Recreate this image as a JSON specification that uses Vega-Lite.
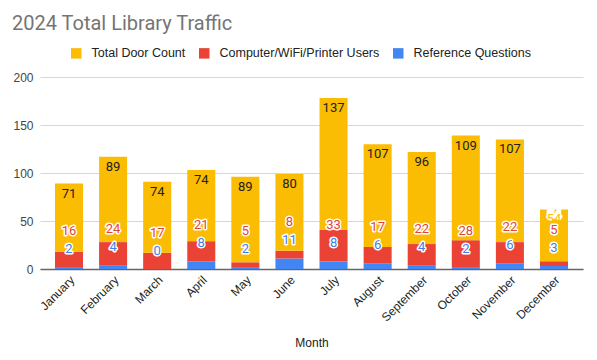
{
  "$schema": "https://vega.github.io/schema/vega-lite/v6.json",
  "width": 543,
  "height": 192,
  "autosize": {"type": "none"},
  "padding": {"left": 40, "top": 77, "right": 14, "bottom": 91},
  "background": "white",
  "title": {"text": "2024 Total Library Traffic", "anchor": "start", "frame": "group", "fontSize": 20, "font": "Roboto", "fontWeight": "normal", "color": "#757575", "dx": -28, "offset": 13},
  "config": {"view": {"stroke": null}, "font": "Liberation Sans"},
  "data": {"values": [
    {"Month": "January", "Total Door Count": 71, "Computer/WiFi/Printer Users": 16, "Reference Questions": 2},
    {"Month": "February", "Total Door Count": 89, "Computer/WiFi/Printer Users": 24, "Reference Questions": 4},
    {"Month": "March", "Total Door Count": 74, "Computer/WiFi/Printer Users": 17, "Reference Questions": 0},
    {"Month": "April", "Total Door Count": 74, "Computer/WiFi/Printer Users": 21, "Reference Questions": 8},
    {"Month": "May", "Total Door Count": 89, "Computer/WiFi/Printer Users": 5, "Reference Questions": 2},
    {"Month": "June", "Total Door Count": 80, "Computer/WiFi/Printer Users": 8, "Reference Questions": 11},
    {"Month": "July", "Total Door Count": 137, "Computer/WiFi/Printer Users": 33, "Reference Questions": 8},
    {"Month": "August", "Total Door Count": 107, "Computer/WiFi/Printer Users": 17, "Reference Questions": 6},
    {"Month": "September", "Total Door Count": 96, "Computer/WiFi/Printer Users": 22, "Reference Questions": 4},
    {"Month": "October", "Total Door Count": 109, "Computer/WiFi/Printer Users": 28, "Reference Questions": 2},
    {"Month": "November", "Total Door Count": 107, "Computer/WiFi/Printer Users": 22, "Reference Questions": 6},
    {"Month": "December", "Total Door Count": 54, "Computer/WiFi/Printer Users": 5, "Reference Questions": 3}
  ]},
  "encoding": {
    "x": {
      "field": "Month", "type": "nominal", "sort": null,
      "scale": {"paddingInner": 0.364, "paddingOuter": 0.34},
      "axis": {"labelAngle": -45, "labelAlign": "right", "labelBaseline": "top", "labelFontSize": 12, "labelColor": "#222", "ticks": false, "labelPadding": 5, "domain": true, "domainColor": "#666", "domainWidth": 1.5, "title": "Month", "titleFontSize": 12, "titleFontWeight": "normal", "titleColor": "#222", "titlePadding": 14}
    }
  },
  "layer": [
    {
      "transform": [
        {"fold": ["Reference Questions", "Computer/WiFi/Printer Users", "Total Door Count"], "as": ["series", "value"]},
        {"window": [{"op": "row_number", "as": "stackRank"}], "groupby": ["Month"]}
      ],
      "mark": {"type": "bar"},
      "encoding": {
        "y": {"field": "value", "type": "quantitative", "stack": "zero", "scale": {"domain": [0, 200]},
          "axis": {"values": [0, 50, 100, 150, 200], "title": null, "domain": false, "ticks": false, "labelFontSize": 12, "labelColor": "#444", "labelPadding": 7, "gridColor": "#d6d6d6"}},
        "order": {"field": "stackRank", "type": "quantitative", "sort": "ascending"},
        "color": {"field": "series", "type": "nominal",
          "scale": {"domain": ["Total Door Count", "Computer/WiFi/Printer Users", "Reference Questions"], "range": ["#FBBC04", "#EA4335", "#4285F4"]},
          "legend": {"orient": "none", "legendX": 30, "legendY": -30, "direction": "horizontal", "title": null, "symbolType": "square", "symbolSize": 110, "symbolStrokeWidth": 0, "labelFontSize": 12.5, "labelColor": "#222", "columnPadding": 12, "labelOffset": 9}}
      }
    },
    {
      "transform": [
        {"fold": ["Reference Questions", "Computer/WiFi/Printer Users", "Total Door Count"], "as": ["series", "value"]},
        {"joinaggregate": [{"op": "sum", "field": "value", "as": "total"}], "groupby": ["Month"]},
        {"filter": "datum.series === 'Total Door Count' && datum.total < 70"}
      ],
      "mark": {"type": "text", "dy": 6, "baseline": "middle", "fontSize": 13, "font": "Roboto", "stroke": "white", "strokeWidth": 3, "strokeJoin": "round", "fill": "white"},
      "encoding": {
        "y": {"field": "total", "type": "quantitative", "scale": {"domain": [0, 200]}},
        "text": {"field": "value", "type": "quantitative"}
      }
    },
    {
      "transform": [
        {"fold": ["Reference Questions", "Computer/WiFi/Printer Users", "Total Door Count"], "as": ["series", "value"]},
        {"joinaggregate": [{"op": "sum", "field": "value", "as": "total"}], "groupby": ["Month"]},
        {"filter": "datum.series === 'Total Door Count'"}
      ],
      "mark": {"type": "text", "dy": 10, "baseline": "middle", "fontSize": 13, "font": "Roboto"},
      "encoding": {
        "y": {"field": "total", "type": "quantitative", "scale": {"domain": [0, 200]}},
        "text": {"field": "value", "type": "quantitative"},
        "color": {"condition": {"test": "datum.total < 70", "value": "#FBBC04"}, "value": "#212121"},
        "yOffset": {"condition": {"test": "datum.total < 70", "value": -4}, "value": 0}
      }
    },
    {
      "mark": {"type": "text", "dy": -18.5, "baseline": "middle", "fontSize": 13, "font": "Roboto", "stroke": "white", "strokeWidth": 3, "strokeJoin": "round", "fill": "white"},
      "encoding": {
        "y": {"field": "Reference Questions", "type": "quantitative", "scale": {"domain": [0, 200]}},
        "text": {"field": "Reference Questions", "type": "quantitative"}
      }
    },
    {
      "mark": {"type": "text", "dy": -18.5, "baseline": "middle", "fontSize": 13, "font": "Roboto", "fill": "#3F7FE8"},
      "encoding": {
        "y": {"field": "Reference Questions", "type": "quantitative", "scale": {"domain": [0, 200]}},
        "text": {"field": "Reference Questions", "type": "quantitative"}
      }
    },
    {
      "mark": {"type": "text", "dy": -36, "baseline": "middle", "fontSize": 13, "font": "Roboto", "stroke": "white", "strokeWidth": 3, "strokeJoin": "round", "fill": "white"},
      "encoding": {
        "y": {"field": "Reference Questions", "type": "quantitative", "scale": {"domain": [0, 200]}},
        "text": {"field": "Computer/WiFi/Printer Users", "type": "quantitative"}
      }
    },
    {
      "mark": {"type": "text", "dy": -36, "baseline": "middle", "fontSize": 13, "font": "Roboto", "fill": "#DE4638"},
      "encoding": {
        "y": {"field": "Reference Questions", "type": "quantitative", "scale": {"domain": [0, 200]}},
        "text": {"field": "Computer/WiFi/Printer Users", "type": "quantitative"}
      }
    }
  ]
}
